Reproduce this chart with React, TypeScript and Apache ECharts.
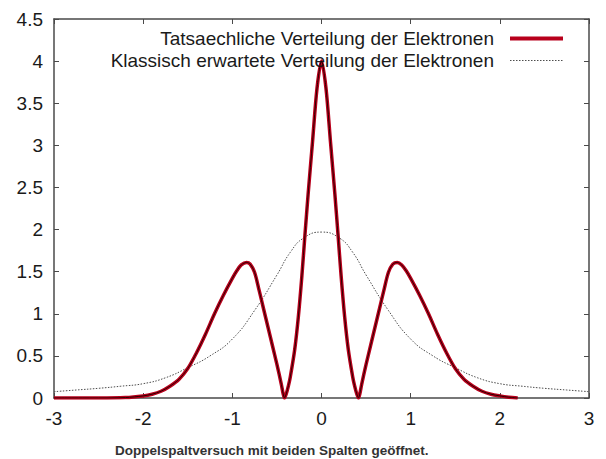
import React, { useEffect, useRef } from "react";
import * as echarts from "echarts";

const quantumName = "Tatsaechliche Verteilung der Elektronen";
const classicName = "Klassisch erwartete Verteilung der Elektronen";
const caption = "Doppelspaltversuch mit beiden Spalten geöffnet.";

const xTicks = { min: -3, max: 3, interval: 1 };
const yTicks = { min: 0, max: 4.5, interval: 0.5 };

const quantumX = [
  -3.0, -2.5, -2.2, -2.0, -1.9, -1.8, -1.7, -1.6, -1.5, -1.4, -1.3, -1.2, -1.1, -1.0, -0.95, -0.9, -0.84,
  -0.8, -0.75, -0.7, -0.65, -0.6, -0.55, -0.5, -0.45, -0.43, -0.415, -0.395, -0.37, -0.35, -0.3, -0.26,
  -0.22, -0.186, -0.15, -0.1, -0.05, 0.0, 0.05, 0.1, 0.15, 0.186, 0.22, 0.26, 0.3, 0.35, 0.37, 0.395,
  0.415, 0.43, 0.45, 0.5, 0.55, 0.6, 0.65, 0.7, 0.75, 0.8, 0.85, 0.9, 0.95, 1.0, 1.1, 1.2, 1.3, 1.4,
  1.5, 1.6, 1.7, 1.8, 1.9, 2.0, 2.1, 2.2,
];
const quantumY = [
  0.0, 0.0, 0.005, 0.025, 0.045, 0.08, 0.14, 0.22, 0.35, 0.54, 0.76, 1.0, 1.22, 1.42, 1.51, 1.58, 1.61,
  1.59, 1.49, 1.28, 1.06, 0.84, 0.62, 0.4, 0.16, 0.05, 0.0, 0.05, 0.15, 0.25, 0.58, 0.96,
  1.45, 1.93, 2.42, 3.05, 3.68, 4.0, 3.68, 3.05, 2.42, 1.93, 1.45, 0.96, 0.58, 0.25, 0.15, 0.05,
  0.0, 0.05, 0.16, 0.4, 0.62, 0.84, 1.06, 1.28, 1.49, 1.59, 1.61, 1.58, 1.51, 1.42, 1.22, 1.0, 0.76, 0.54,
  0.35, 0.22, 0.14, 0.08, 0.045, 0.025, 0.01, 0.0,
];

const classicX = [
  -3.0, -2.75, -2.5, -2.25, -2.0, -1.75, -1.5, -1.25, -1.0, -0.75, -0.5, -0.35, -0.2, 0.0,
  0.2, 0.35, 0.5, 0.75, 1.0, 1.25, 1.5, 1.75, 2.0, 2.25, 2.5, 2.75, 3.0,
];
const classicY = [
  0.075, 0.095, 0.115, 0.14, 0.17, 0.24, 0.36, 0.5, 0.7, 1.04, 1.46, 1.73, 1.9, 1.97,
  1.9, 1.73, 1.46, 1.04, 0.7, 0.5, 0.36, 0.24, 0.17, 0.14, 0.115, 0.095, 0.075,
];

const FONT = "Liberation Sans, Arial, Helvetica, sans-serif";
const AXIS_COLOR = "#4a4a4a";
const RED = "#b8001c";
const GREY = "#4d4d4d";

export default function App() {
  const ref = useRef<HTMLDivElement>(null);

  useEffect(() => {
    if (!ref.current) return;
    const chart = echarts.init(ref.current, undefined, { renderer: "svg" });
    const quantumData = quantumX.map((x, i) => [x, quantumY[i]]);
    const classicData = classicX.map((x, i) => [x, classicY[i]]);

    const baseX = {
      type: "value" as const,
      min: xTicks.min,
      max: xTicks.max,
      interval: xTicks.interval,
      splitLine: { show: false },
      axisLine: { show: true, onZero: false, lineStyle: { color: AXIS_COLOR, width: 1.5 } },
      axisTick: { show: true, inside: true, length: 5, lineStyle: { color: AXIS_COLOR, width: 1 } },
    };
    const baseY = {
      type: "value" as const,
      min: yTicks.min,
      max: yTicks.max,
      interval: yTicks.interval,
      splitLine: { show: false },
      axisLine: { show: true, onZero: false, lineStyle: { color: AXIS_COLOR, width: 1.5 } },
      axisTick: { show: true, inside: true, length: 5, lineStyle: { color: AXIS_COLOR, width: 1 } },
    };

    chart.setOption({
      animation: false,
      backgroundColor: "#ffffff",
      textStyle: { fontFamily: FONT },
      grid: { left: 54, right: 17, top: 19, bottom: 61, containLabel: false },
      title: {
        text: caption,
        left: 110,
        top: 438,
        textStyle: { fontFamily: FONT, fontSize: 13.5, fontWeight: "bold", color: "#333333" },
      },
      legend: {
        data: [
          { name: quantumName, lineStyle: { width: 4, color: RED } },
          { name: classicName, lineStyle: { width: 1, color: GREY, type: [1.5, 1.5] } },
        ],
        orient: "vertical",
        align: "right",
        right: 36,
        top: 24,
        itemWidth: 53,
        itemHeight: 14,
        itemGap: 3,
        itemStyle: { opacity: 0 },
        textStyle: { fontFamily: FONT, fontSize: 19, color: "#1a1a1a", padding: [0, 11, 0, 0] },
      },
      xAxis: [
        {
          ...baseX,
          position: "bottom",
          axisLabel: { show: true, fontFamily: FONT, fontSize: 19, color: "#1a1a1a", margin: 11 },
        },
        { ...baseX, position: "top", axisLabel: { show: false } },
      ],
      yAxis: [
        {
          ...baseY,
          position: "left",
          axisLabel: { show: true, fontFamily: FONT, fontSize: 19, color: "#1a1a1a", margin: 11 },
        },
        { ...baseY, position: "right", axisLabel: { show: false } },
      ],
      series: [
        {
          name: classicName,
          type: "line",
          data: classicData,
          smooth: 0.5,
          symbol: "none",
          lineStyle: { color: GREY, width: 1, type: [1.5, 1.5] },
          itemStyle: { color: GREY },
          z: 2,
        },
        {
          name: quantumName,
          type: "line",
          data: quantumData,
          smooth: 0.3,
          symbol: "none",
          lineStyle: { color: RED, width: 3.5 },
          itemStyle: { color: RED },
          z: 3,
        },
        {
          name: "core",
          type: "line",
          data: quantumData,
          smooth: 0.3,
          symbol: "none",
          lineStyle: { color: "#2a0000", width: 1 },
          itemStyle: { color: "#2a0000" },
          z: 4,
        },
      ],
    });
    return () => chart.dispose();
  }, []);

  return (
    <div
      ref={ref}
      style={{ position: "fixed", left: 0, top: 0, width: 606, height: 459, background: "#fff" }}
    />
  );
}
